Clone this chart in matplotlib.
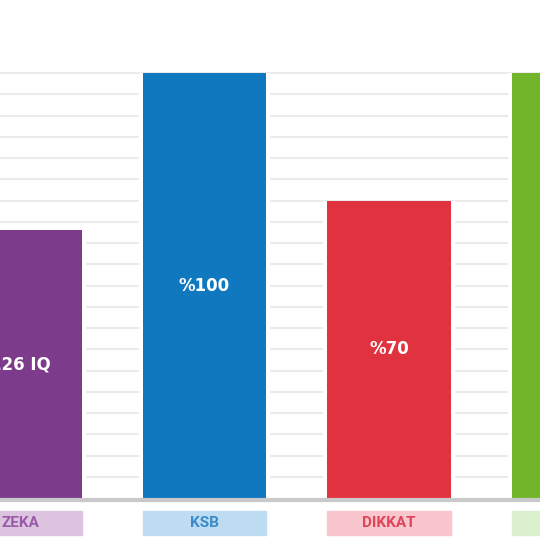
import numpy as np
import matplotlib
matplotlib.use('Agg')
import matplotlib.pyplot as plt
from matplotlib.patches import Rectangle
from matplotlib.transforms import blended_transform_factory

# Data (values on a 0-100 scale, IQ 126 shown as 63)
categories = ['ZEKA', 'KSB', 'DIKKAT', '']
values = [63, 100, 70, 100]
value_labels = ['126 IQ', '%100', '%70', '']
bar_colors = ['#7d3b8b', '#0f78be', '#e1323f', '#72b42a']
box_colors = ['#dcc4e1', '#bddcf1', '#f8c6cc', '#dcefcf']
text_colors = ['#9a5ba6', '#3b8bca', '#df4459', '#7cb44a']

fig = plt.figure(figsize=(5.4, 5.4), dpi=100)
ax = fig.add_axes([0, 0, 1, 1])

x = np.arange(len(categories))
bar_w = 0.667

# white "halo" bars so the grid stops a few px short of each bar
ax.bar(x, values, width=bar_w + 0.045, color='white', zorder=2)
ax.bar(x, values, width=bar_w, color=bar_colors, zorder=3)

for xi, v, lab in zip(x, values, value_labels):
    ax.text(xi, v / 2, lab, ha='center', va='center', color='white',
            fontsize=12, fontweight='bold', family='DejaVu Sans', zorder=4)

# baseline
ax.axhline(-0.45, color='#c9c9cc', lw=3, zorder=3)

# category label boxes under the bars
trans = blended_transform_factory(ax.transData, ax.transAxes)
for xi, cat, bc, tc in zip(x, categories, box_colors, text_colors):
    ax.add_patch(Rectangle((xi - bar_w / 2, 0.009), bar_w, 0.044,
                           transform=trans, color=bc, clip_on=False, zorder=3))
    ax.text(xi, 0.031, cat, transform=trans, ha='center', va='center',
            color=tc, fontsize=11, fontweight='bold', family='Roboto', zorder=4)

ax.set_xlim(-0.1084, 2.8184)
ax.set_ylim(-9.88, 117.2)
ax.set_yticks(np.arange(5, 101, 5))
ax.yaxis.grid(True, color='#ebebeb', lw=1.5, zorder=1)
ax.set_axisbelow(True)
ax.tick_params(left=False, bottom=False, labelleft=False, labelbottom=False)
for s in ax.spines.values():
    s.set_visible(False)

fig.savefig('out.png', dpi=100, facecolor='white')
